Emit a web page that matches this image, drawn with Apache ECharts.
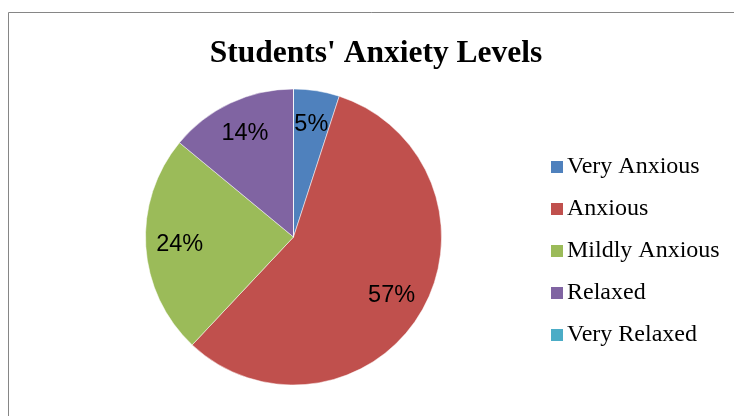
<!DOCTYPE html>
<html>
<head>
<meta charset="utf-8">
<script src="https://cdn.jsdelivr.net/npm/echarts@6/dist/echarts.min.js"></script>
<style>
html,body{margin:0;padding:0;background:#fff;}
#chart{width:734px;height:416px;}
</style>
</head>
<body>
<div id="chart"></div>
<script>
const titleText = "Students' Anxiety Levels";
const categories = ['Very Anxious', 'Anxious', 'Mildly Anxious', 'Relaxed', 'Very Relaxed'];
const values = [5, 57, 24, 14, 0];
const colors = ['#4F81BD', '#C0504D', '#9BBB59', '#8064A2', '#4BACC6'];

const chart = echarts.init(document.getElementById('chart'), null, {renderer: 'canvas'});
const data = categories.map((c, i) => ({name: c, value: values[i], itemStyle: {color: colors[i]}}));
const total = values.reduce((a, b) => a + b, 0);

chart.setOption({
  animation: false,
  backgroundColor: '#fff',
  graphic: [{
    type: 'rect', silent: true,
    shape: {x: 8.5, y: 12.5, width: 900, height: 600},
    style: {fill: 'none', stroke: '#868686', lineWidth: 1}
  }],
  title: {
    text: titleText,
    left: 371, top: 33, textAlign: 'center',
    textStyle: {fontFamily: 'Liberation Serif', fontWeight: 'bold', fontSize: 31.5, color: '#000'}
  },
  legend: {
    orient: 'vertical',
    left: 551, top: 155, padding: 0,
    itemWidth: 12, itemHeight: 12, itemGap: 18,
    icon: 'rect',
    data: categories.map((c, i) => ({name: c, itemStyle: {color: colors[i], borderWidth: 0}})),
    itemStyle: {borderWidth: 0},
    textStyle: {fontFamily: 'Liberation Serif', fontSize: 24, lineHeight: 24, color: '#000', padding: [0, 0, 0, -1]},
    selectedMode: false
  },
  series: [{
    type: 'pie',
    center: [293.5, 237], radius: [0, 148],
    startAngle: 90, clockwise: true,
    data: data,
    label: {show: false}, labelLine: {show: false},
    itemStyle: {borderColor: '#fff', borderWidth: 0.5},
    emphasis: {disabled: true}
  }, {
    type: 'pie',
    center: [293.5, 237], radius: [0, 222],
    startAngle: 90, clockwise: true, silent: true,
    data: data.map(d => ({name: d.name, value: d.value, itemStyle: {color: 'rgba(0,0,0,0)'}})),
    itemStyle: {color: 'rgba(0,0,0,0)', borderWidth: 0},
    label: {
      show: true, position: 'inside',
      formatter: p => p.value > 0 ? Math.round(p.value / total * 100) + '%' : '',
      fontFamily: 'Liberation Sans', fontSize: 23.5, color: '#000'
    },
    labelLine: {show: false},
    emphasis: {disabled: true}
  }]
});
</script>
</body>
</html>
